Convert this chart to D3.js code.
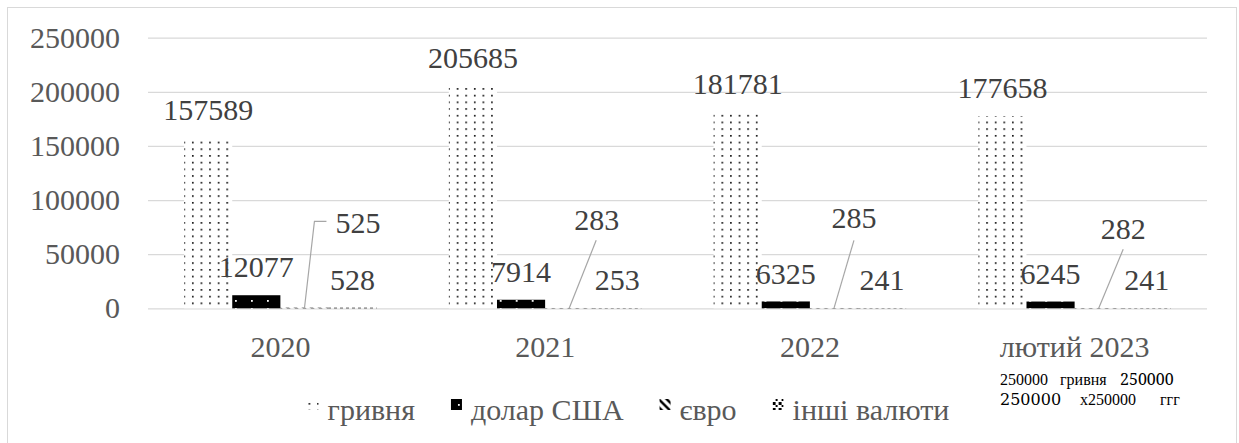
<!DOCTYPE html>
<html><head><meta charset="utf-8">
<script src="https://cdn.jsdelivr.net/npm/d3@7"></script>
</head>
<body style="margin:0">
<svg id="chart" width="1239" height="443" style="display:block"></svg>
<script>
const categories = ["2020", "2021", "2022", "лютий 2023"];
const seriesNames = ["гривня", "долар США", "євро", "інші валюти"];
const hryvnia = [157589, 205685, 181781, 177658];
const dollar = [12077, 7914, 6325, 6245];
const euro = [525, 283, 285, 282];
const other = [528, 253, 241, 241];
const yTicks = [0, 50000, 100000, 150000, 200000, 250000];

const seriesValues = [hryvnia, dollar, euro, other];
const patterns = ["p-dots", "p-solid", "p-diag", "p-check"];

const euroLabelLayout = [
  {dx: 53.5, dy: -75, leader: [[0,0],[10,-87],[22,-87]]},
  {dx: 27.5, dy: -78, leader: [[0,0],[27,-68]]},
  {dx: 20,   dy: -80, leader: [[0,0],[20,-68]]},
  {dx: 24.5, dy: -69, leader: [[0,0],[24.5,-59]]}
];

const svg = d3.select("#chart");
const plot = {left: 148, right: 1207, top: 37.7, bottom: 308.3};

function txt(parent, x, yv, s, color, anchor) {
  return parent.append("text").attr("x", x).attr("y", yv)
    .style("font-family", "Tinos").style("font-size", "30px")
    .style("fill", color).style("text-anchor", anchor || "middle").text(s);
}

// diagnostics
svg.append("text").attr("x", 1000).attr("y", 385).style("font-family","'Liberation Serif'").style("font-size","16px").text("250000");
svg.append("text").attr("x", 1060).attr("y", 385).style("font-family","'Liberation Serif'").style("font-size","16px").text("гривня");
svg.append("text").attr("x", 1120).attr("y", 385).style("font-family","'Noto Serif'").style("font-size","16px").text("250000");
svg.append("text").attr("x", 1000).attr("y", 405).style("font-family","'DejaVu Serif'").style("font-size","16px").text("250000");
svg.append("text").attr("x", 1080).attr("y", 405).style("font-family","'Liberation Serif'").style("font-size","16px").text("x250000");
svg.append("text").attr("x", 1160).attr("y", 405).style("font-family","'Liberation Serif'").style("font-size","16px").text("ггг");

const defs = svg.append("defs");
let p = defs.append("pattern").attr("id","p-dots").attr("patternUnits","userSpaceOnUse")
  .attr("width",8.6).attr("height",6.7);
p.append("rect").attr("width",8.6).attr("height",6.7).attr("fill","#fff");
p.append("rect").attr("x",1).attr("y",1).attr("width",1.6).attr("height",1.6).attr("fill","#000");

p = defs.append("pattern").attr("id","p-solid").attr("patternUnits","userSpaceOnUse")
  .attr("width",16).attr("height",8).attr("x",3);
p.append("rect").attr("width",16).attr("height",8).attr("fill","#000");
p.append("rect").attr("x",4).attr("y",4).attr("width",1.8).attr("height",1.8).attr("fill","#fff");

p = defs.append("pattern").attr("id","p-diag").attr("patternUnits","userSpaceOnUse")
  .attr("width",8).attr("height",8);
p.append("rect").attr("width",8).attr("height",8).attr("fill","#fff");
p.append("path").attr("d","M-2,-2 L10,10 M-2,6 L2,10 M6,-2 L10,2").attr("stroke","#000").attr("stroke-width",2.5);

p = defs.append("pattern").attr("id","p-check").attr("patternUnits","userSpaceOnUse")
  .attr("width",6).attr("height",6);
p.append("rect").attr("width",6).attr("height",6).attr("fill","#fff");
p.append("rect").attr("x",0).attr("y",0).attr("width",3).attr("height",3).attr("fill","#000");
p.append("rect").attr("x",3).attr("y",3).attr("width",2).attr("height",2).attr("fill","#000");

svg.append("rect").attr("x",7.5).attr("y",7.5).attr("width",1229).attr("height",445)
  .attr("fill","none").attr("stroke","#d9d9d9").attr("stroke-width",1);

const y = d3.scaleLinear().domain([0, 250000]).range([plot.bottom, plot.top]);
const x0 = d3.scaleBand().domain(categories).range([plot.left, plot.right]).padding(0);
const x1 = d3.scaleBand().domain(seriesNames).range([0, x0.bandwidth()]).paddingInner(0).paddingOuter(0.75);

const yAxis = svg.append("g").attr("transform",`translate(${plot.left},0)`)
  .call(d3.axisLeft(y).tickValues(yTicks).tickSize(-(plot.right-plot.left)).tickFormat(""));
yAxis.select(".domain").remove();
yAxis.selectAll(".tick text").remove();
yAxis.selectAll(".tick line").attr("stroke","#d9d9d9").attr("stroke-width",1.2);
const fmt = d3.format("d");
yTicks.forEach(t => txt(svg, plot.left - 28, y(t) + 10, fmt(t), "#595959", "end"));

categories.forEach(c => txt(svg, x0(c) + x0.bandwidth()/2, plot.bottom + 48.2, c, "#595959"));

const groups = svg.append("g").selectAll("g").data(categories).join("g")
  .attr("transform", d => `translate(${x0(d)},0)`);

seriesNames.forEach((s, si) => {
  groups.append("rect")
    .attr("x", x1(s))
    .attr("width", x1.bandwidth())
    .attr("y", (d, ci) => y(seriesValues[si][ci]))
    .attr("height", (d, ci) => y(0) - y(seriesValues[si][ci]))
    .attr("fill", `url(#${patterns[si]})`);
});

categories.forEach((c, ci) => {
  seriesNames.forEach((s, si) => {
    const v = seriesValues[si][ci];
    const cx = x0(c) + x1(s) + x1.bandwidth()/2;
    if (si === 2) {
      const L = euroLabelLayout[ci];
      const base = y(0);
      const line = d3.line()(L.leader.map(([a,b]) => [cx + a, base + b]));
      svg.append("path").attr("d", line).attr("fill","none").attr("stroke","#a6a6a6").attr("stroke-width",1.2);
      txt(svg, cx + L.dx, base + L.dy, v, "#404040");
    } else {
      txt(svg, cx, y(v) - 17.8, v, "#404040");
    }
  });
});

const legend = svg.append("g");
let lx = 0;
seriesNames.forEach((s, i) => {
  const g = legend.append("g").attr("transform",`translate(${lx},0)`);
  g.append("rect").attr("x",0).attr("y",399).attr("width",11).attr("height",11).attr("fill",`url(#${patterns[i]})`);
  const t = txt(g, 20, 420, s, "#595959", "start");
  const w = t.node().getComputedTextLength();
  lx += 20 + w + 36;
});
const totalW = lx - 36;
legend.attr("transform",`translate(${628.5 - totalW/2},0)`);
</script>
</body></html>
